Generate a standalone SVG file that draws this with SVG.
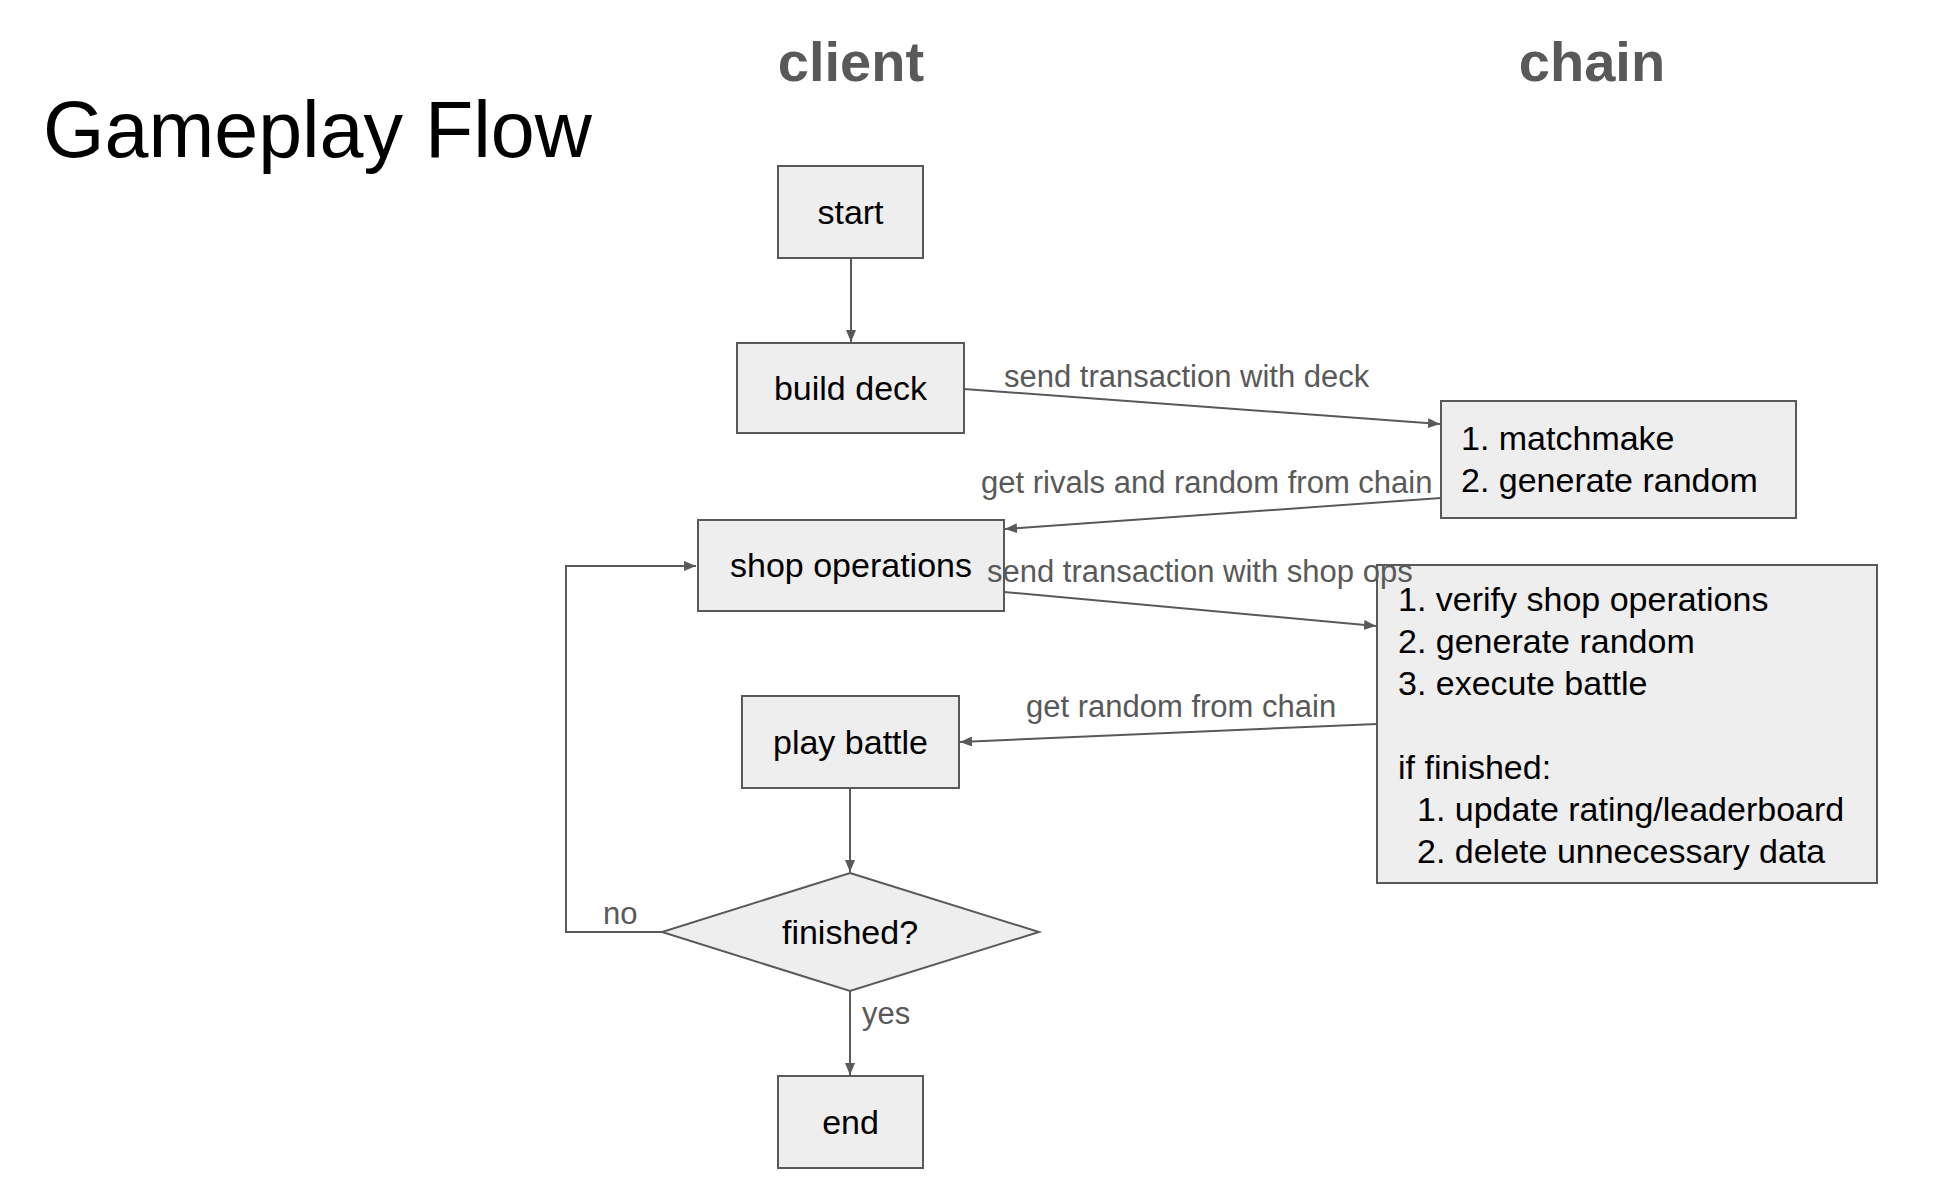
<svg xmlns="http://www.w3.org/2000/svg" width="1940" height="1204" viewBox="0 0 1940 1204">
<defs>
<style>
.box{fill:#eeeeee;stroke:#595959;stroke-width:2}
.t{font-family:"Liberation Sans",Arial,sans-serif;font-size:34px;fill:#000}
.c{text-anchor:middle}
.lbl{font-family:"Liberation Sans",Arial,sans-serif;font-size:31px;fill:#595959}
.hdr{font-family:"Liberation Sans",Arial,sans-serif;font-size:56px;font-weight:bold;fill:#595959;text-anchor:middle}
.ln{fill:none;stroke:#595959;stroke-width:2}
</style>
<marker id="arr" viewBox="0 0 12 10" refX="12" refY="5" markerWidth="12" markerHeight="10" markerUnits="userSpaceOnUse" orient="auto">
<path d="M0,0 L12,5 L0,10 z" fill="#595959"/>
</marker>
</defs>
<rect width="1940" height="1204" fill="#fff"/>
<text x="43" y="157" font-family="Liberation Sans, Arial, sans-serif" font-size="79" fill="#000">Gameplay Flow</text>
<text class="hdr" x="851" y="81">client</text>
<text class="hdr" x="1592" y="81">chain</text>

<g id="start">
<rect class="box" x="778" y="166" width="145" height="92"/>
<text class="t c" x="850.5" y="224">start</text>
</g>
<g id="build-deck">
<rect class="box" x="737" y="343" width="227" height="90"/>
<text class="t c" x="850.5" y="400">build deck</text>
</g>
<g id="shop-operations">
<rect class="box" x="698" y="520" width="306" height="91"/>
<text class="t c" x="851" y="577">shop operations</text>
</g>
<g id="play-battle">
<rect class="box" x="742" y="696" width="217" height="92"/>
<text class="t c" x="850.5" y="754">play battle</text>
</g>
<g id="finished">
<polygon class="box" points="850,873 1039,932 850,991 662,932"/>
<text class="t c" x="850" y="944">finished?</text>
</g>
<g id="end">
<rect class="box" x="778" y="1076" width="145" height="92"/>
<text class="t c" x="850.5" y="1134">end</text>
</g>
<g id="matchmake">
<rect class="box" x="1441" y="401" width="355" height="117"/>
<text class="t" x="1461" y="450">1. matchmake</text>
<text class="t" x="1461" y="492">2. generate random</text>
</g>
<g id="verify">
<rect class="box" x="1377" y="565" width="500" height="318"/>
<text class="t" x="1398" y="611">1. verify shop operations</text>
<text class="t" x="1398" y="653">2. generate random</text>
<text class="t" x="1398" y="695">3. execute battle</text>
<text class="t" x="1398" y="779">if finished:</text>
<text class="t" x="1417" y="821">1. update rating/leaderboard</text>
<text class="t" x="1417" y="863">2. delete unnecessary data</text>
</g>

<g id="connectors">
<line class="ln" x1="851" y1="258" x2="851" y2="342" marker-end="url(#arr)"/>
<line class="ln" x1="964" y1="389" x2="1440" y2="424" marker-end="url(#arr)"/>
<line class="ln" x1="1441" y1="498" x2="1005" y2="529" marker-end="url(#arr)"/>
<line class="ln" x1="1004" y1="592" x2="1376" y2="626" marker-end="url(#arr)"/>
<line class="ln" x1="1377" y1="724" x2="960" y2="742" marker-end="url(#arr)"/>
<line class="ln" x1="850" y1="788" x2="850" y2="872" marker-end="url(#arr)"/>
<line class="ln" x1="850" y1="991" x2="850" y2="1075" marker-end="url(#arr)"/>
<polyline class="ln" points="662,932 566,932 566,566 696,566" marker-end="url(#arr)"/>
<text class="lbl" x="1004" y="387">send transaction with deck</text>
<text class="lbl" x="981" y="493">get rivals and random from chain</text>
<text class="lbl" x="987" y="582">send transaction with shop ops</text>
<text class="lbl" x="1026" y="717">get random from chain</text>
<text class="lbl" x="603" y="924">no</text>
<text class="lbl" x="862" y="1024">yes</text>
</g>
</svg>
